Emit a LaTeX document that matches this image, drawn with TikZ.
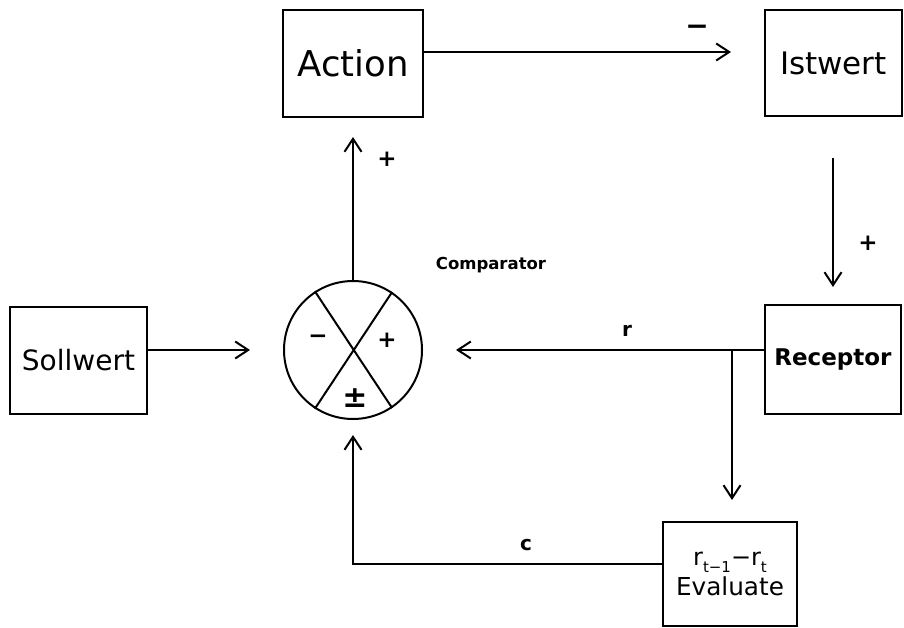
\documentclass[tikz,border=0pt]{standalone}
\usepackage{fontspec}
\setmainfont{DejaVu Sans}
\usetikzlibrary{arrows.meta}
\begin{document}
\begin{tikzpicture}[x=1pt,y=-1pt,
  box/.style={draw, line width=2pt, inner sep=0pt, outer sep=0pt, align=center},
  arr/.style={line width=2pt, -{Straight Barb[length=13pt,width=17pt]}},
  conn/.style={line width=2pt},
  lbl/.style={inner sep=0pt, font=\bfseries\fontsize{20}{20}\selectfont},
  sgn/.style={inner sep=0pt, font=\bfseries\fontsize{23}{23}\selectfont},
]
\useasboundingbox (0,0) rectangle (904,628);

% boxes
\node[box, minimum width=140pt, minimum height=107pt, font=\fontsize{35.5}{40}\selectfont] (action) at (353,63.5) {Action};
\node[box, minimum width=137pt, minimum height=106pt, font=\fontsize{31}{36}\selectfont] (istwert) at (833.5,63) {Istwert};
\node[box, minimum width=137pt, minimum height=107pt, font=\fontsize{28}{32}\selectfont] (sollwert) at (78.5,360.5) {Sollwert};
\node[box, minimum width=136pt, minimum height=109pt, font=\bfseries\fontsize{23}{28}\selectfont] (receptor) at (833,359.5) {Receptor};
\node[box, minimum width=134pt, minimum height=104pt, font=\fontsize{24.7}{26}\selectfont] (evaluate) at (730,574)
  {{\fontsize{24}{24}\selectfont r\raisebox{-0.5ex}{\fontsize{15}{15}\selectfont t−1}−r\raisebox{-0.5ex}{\fontsize{15}{15}\selectfont t}}\\[4pt]Evaluate};

% comparator
\node[draw, circle, line width=2pt, minimum size=138pt, inner sep=0pt] (cmp) at (353,350) {};
\draw[conn] (cmp.123.7) -- (cmp.-56.3);
\draw[conn] (cmp.56.3) -- (cmp.-123.7);
\node[sgn] (sminus) at (318,339) {−};
\node[sgn] (splus) at (387,340) {+};
\node[inner sep=0pt, font=\bfseries\fontsize{30}{30}\selectfont] (spm) at (355,398) {±};
\node[inner sep=0pt, font=\bfseries\fontsize{16.5}{17}\selectfont] (cmplbl) at (491,265) {Comparator};

% coordinates
\coordinate (ai) at (731,52);
\coordinate (is1) at (833,158);
\coordinate (rc1) at (833,287);
\coordinate (ac1) at (353,137);
\coordinate (cin) at (250,350);
\coordinate (rin) at (456,350);
\coordinate (br) at (732,350);
\coordinate (ev1) at (732,500);
\coordinate (corner) at (353,564);
\coordinate (cbot) at (353,435);

% connectors
\draw[arr] (action.east |- ai) -- (ai);
\draw[arr] (is1) -- (rc1);
\draw[arr] (cmp.north) -- (ac1);
\draw[arr] (sollwert.east |- cin) -- (cin);
\draw[arr] (receptor.west |- rin) -- (rin);
\draw[arr] (br) -- (ev1);
\draw[arr] (evaluate.west |- corner) -- (corner) -- (cbot);

% labels
\node[inner sep=0pt, font=\bfseries\fontsize{28}{28}\selectfont] (lminus) at (697,30) {−};
\node[sgn] (lplus1) at (868,243) {+};
\node[sgn] (lplus2) at (387,159) {+};
\node[lbl] (lr) at (627,331) {r};
\node[lbl] (lc) at (526,545) {c};
\end{tikzpicture}
\end{document}
